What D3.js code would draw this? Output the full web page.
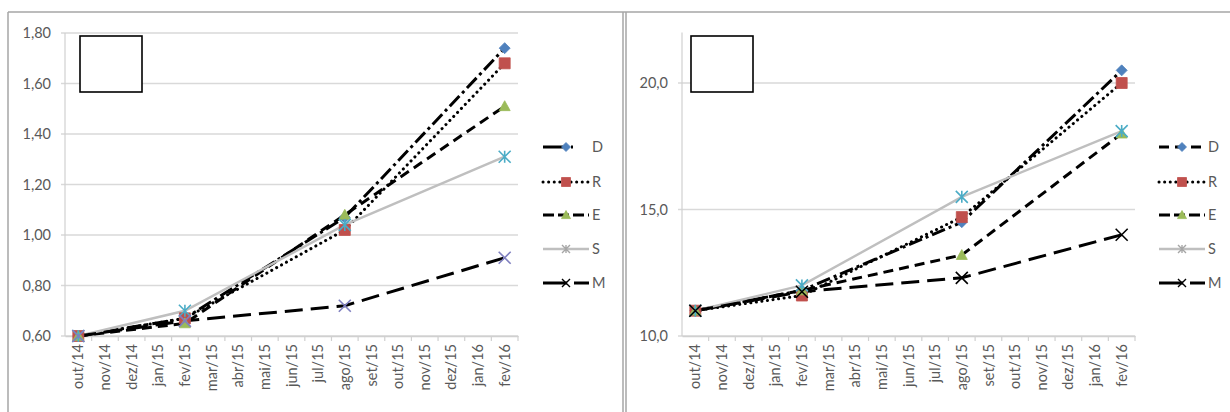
<!DOCTYPE html>
<html><head><meta charset="utf-8">
<script src="https://cdn.jsdelivr.net/npm/d3@7"></script>
<style>
html,body{margin:0;padding:0;background:#fff;}
svg{display:block;font-family:Lato,"Open Sans",sans-serif;}
</style></head>
<body>
<svg id="c" width="1230" height="412"></svg>
<script>
// ---- data ----
const months = ["out/14","nov/14","dez/14","jan/15","fev/15","mar/15","abr/15","mai/15","jun/15","jul/15","ago/15","set/15","out/15","nov/15","dez/15","jan/16","fev/16"];
const sampledMonths = ["out/14","fev/15","ago/15","fev/16"];
const seriesNames = ["D","R","E","S","M"];

// left chart values at sampledMonths
const leftD = [0.60, 0.67, 1.07, 1.74];
const leftR = [0.60, 0.67, 1.02, 1.68];
const leftE = [0.60, 0.65, 1.08, 1.51];
const leftS = [0.60, 0.70, 1.04, 1.31];
const leftM = [0.60, 0.66, 0.72, 0.91];
const leftTicks = [0.60, 0.80, 1.00, 1.20, 1.40, 1.60, 1.80];

// right chart values at sampledMonths
const rightD = [11.0, 11.8, 14.5, 20.5];
const rightR = [11.0, 11.6, 14.7, 20.0];
const rightE = [11.0, 11.8, 13.2, 18.0];
const rightS = [11.0, 12.0, 15.5, 18.1];
const rightM = [11.0, 11.75, 12.3, 14.0];
const rightTicks = [10, 15, 20];

// ---- styles ----
const styles = {
  D: {stroke:"#000", width:3, dash:"14,4,3,4", cap:"butt", marker:"diamond", fill:"#4f81bd"},
  R: {stroke:"#000", width:3, dash:"0.1,5.5", cap:"round", marker:"square", fill:"#c0504d"},
  E: {stroke:"#000", width:3, dash:"10,6", cap:"butt", marker:"triangle", fill:"#9bbb59"},
  S: {stroke:"#bfbfbf", width:2.4, dash:null, cap:"butt", marker:"star", fill:"#4bacc6"},
  M: {stroke:"#000", width:3, dash:"18,8", cap:"butt", marker:"x", fill:"#7f7fbf"}
};
const FS = 14.5;

const svg = d3.select("#c");

// frames
const frame = svg.append("g").attr("fill","none").attr("stroke","#a6a6a6").attr("stroke-width",1.5);
frame.append("line").attr("x1",8).attr("x2",1230).attr("y1",12).attr("y2",12);
frame.append("line").attr("x1",8).attr("x2",8).attr("y1",12).attr("y2",412);
frame.append("line").attr("x1",623).attr("x2",623).attr("y1",12).attr("y2",412);
frame.append("line").attr("x1",626).attr("x2",626).attr("y1",12).attr("y2",412);

function markerPath(type, size){
  const s = size/2;
  switch(type){
    case "diamond": return `M0,${-s}L${s},0L0,${s}L${-s},0Z`;
    case "square": return `M${-s},${-s}H${s}V${s}H${-s}Z`;
    case "triangle": return `M0,${-s}L${s},${s*0.8}L${-s},${s*0.8}Z`;
    case "star": return `M${-s},${-s}L${s},${s}M${-s},${s}L${s},${-s}M0,${-s}V${s}`;
    case "x": return `M${-s},${-s}L${s},${s}M${-s},${s}L${s},${-s}`;
  }
}

function drawChart(cfg){
  const g = svg.append("g");
  const x = d3.scaleBand().domain(months).range([cfg.x0, cfg.x1]);
  const y = d3.scaleLinear().domain(cfg.domain).range([cfg.yBottom, cfg.yTop]);
  const fmt = v => d3.format(cfg.fmt)(v).replace(".", ",");

  // gridlines
  g.append("g").selectAll("line").data(cfg.ticks).join("line")
    .attr("x1", cfg.x0 - 4).attr("x2", cfg.x1)
    .attr("y1", d => y(d)).attr("y2", d => y(d))
    .attr("stroke", "#d9d9d9").attr("stroke-width", 1.5);

  // y axis line
  g.append("line").attr("x1", cfg.x0).attr("x2", cfg.x0)
    .attr("y1", cfg.yTop).attr("y2", cfg.yBottom)
    .attr("stroke", "#d0d0d0").attr("stroke-width", 1.2);

  // y labels
  g.append("g").selectAll("text").data(cfg.ticks).join("text")
    .attr("x", cfg.x0 - 14).attr("y", d => y(d)).attr("dy", "0.35em")
    .attr("text-anchor", "end").attr("font-size", FS).attr("fill", "#595959")
    .text(fmt);

  // x axis
  const xAxis = d3.axisBottom(x).tickSize(0).tickFormat("");
  const ax = g.append("g").attr("transform", `translate(0,${cfg.yBottom})`).call(xAxis);
  ax.select(".domain").attr("stroke", "#d0d0d0").attr("stroke-width", 1.5);
  // tick marks between categories
  g.append("g").selectAll("line").data(months).join("line")
    .attr("x1", d => x(d) + x.bandwidth()).attr("x2", d => x(d) + x.bandwidth())
    .attr("y1", cfg.yBottom).attr("y2", cfg.yBottom + 5)
    .attr("stroke", "#d0d0d0").attr("stroke-width", 1.2);
  g.append("g").selectAll("text").data(months).join("text")
    .attr("transform", d => `translate(${x(d) + x.bandwidth()/2},${cfg.yBottom + 8}) rotate(-90)`)
    .attr("dy", "0.35em").attr("text-anchor", "end")
    .attr("font-size", FS).attr("fill", "#595959")
    .text(d => d);

  // box
  g.append("rect").attr("x", cfg.box[0]).attr("y", cfg.box[1])
    .attr("width", cfg.box[2]).attr("height", cfg.box[3])
    .attr("fill", "#fff").attr("stroke", "#000").attr("stroke-width", 1.6);

  const line = d3.line().x(d => x(d.m) + x.bandwidth()/2).y(d => y(d.v));
  const data = seriesNames.map(n => ({name: n, pts: sampledMonths.map((m, i) => ({m, v: cfg.values[n][i]}))}));

  // lines
  g.append("g").selectAll("path").data(data).join("path")
    .attr("d", d => line(d.pts))
    .attr("fill", "none")
    .attr("stroke", d => styles[d.name].stroke)
    .attr("stroke-width", d => styles[d.name].width)
    .attr("stroke-dasharray", d => styles[d.name].dash)
    .attr("stroke-linecap", d => styles[d.name].cap);

  // markers
  data.forEach(s => {
    const st = styles[s.name];
    const mcol = (cfg.markerColors && cfg.markerColors[s.name]) || st.fill;
    const isLine = st.marker === "x" || st.marker === "star";
    g.append("g").selectAll("path").data(s.pts).join("path")
      .attr("transform", d => `translate(${x(d.m) + x.bandwidth()/2},${y(d.v)})`)
      .attr("d", markerPath(st.marker, isLine ? 12 : 11))
      .attr("fill", isLine ? "none" : mcol)
      .attr("stroke", mcol)
      .attr("stroke-width", isLine ? 1.6 : 0.8);
  });

  // legend
  const lg = g.append("g");
  const lx0 = cfg.legendX, ly = [147, 182, 215, 249, 283];
  seriesNames.forEach((n, i) => {
    const st = styles[n];
    const row = lg.append("g").attr("transform", `translate(${lx0},${ly[i]})`);
    row.append("line").attr("x1", 0).attr("x2", 46).attr("y1", 0).attr("y2", 0)
      .attr("stroke", st.stroke).attr("stroke-width", st.width)
      .attr("stroke-dasharray", cfg.legendDash[n]).attr("stroke-linecap", st.cap);
    const isLine = st.marker === "x" || st.marker === "star";
    const mcol = n === "S" ? "#a6a6a6" : (n === "M" ? "#000" : st.fill);
    row.append("path").attr("transform", "translate(23,0)")
      .attr("d", markerPath(st.marker, isLine ? 8 : 9))
      .attr("fill", isLine ? "none" : mcol).attr("stroke", mcol)
      .attr("stroke-width", isLine ? 1.4 : 0.8);
    row.append("text").attr("x", 49).attr("y", 0).attr("dy", "0.35em")
      .attr("font-size", FS).attr("fill", "#595959").text(n);
  });
}

drawChart({
  x0: 65, x1: 518, yTop: 33, yBottom: 336, domain: [0.6, 1.8], ticks: leftTicks, fmt: ".2f",
  values: {D: leftD, R: leftR, E: leftE, S: leftS, M: leftM},
  box: [80, 36, 62, 56], legendX: 543,
  legendDash: {D: "20,8,2,20", R: "0.1,5.5", E: "11,4", S: null, M: "24,7"},
  markerColors: {S: "#4bacc6", M: "#7f7fbf"}
});

drawChart({
  x0: 682, x1: 1135, yTop: 32.4, yBottom: 336, domain: [10, 22], ticks: rightTicks, fmt: ".1f",
  values: {D: rightD, R: rightR, E: rightE, S: rightS, M: rightM},
  box: [691, 36, 62, 56], legendX: 1159,
  legendDash: {D: "10,6", R: "0.1,5.5", E: "11,4", S: null, M: "24,7"},
  markerColors: {S: "#4bacc6", M: "#000"}
});
</script>
</body></html>
